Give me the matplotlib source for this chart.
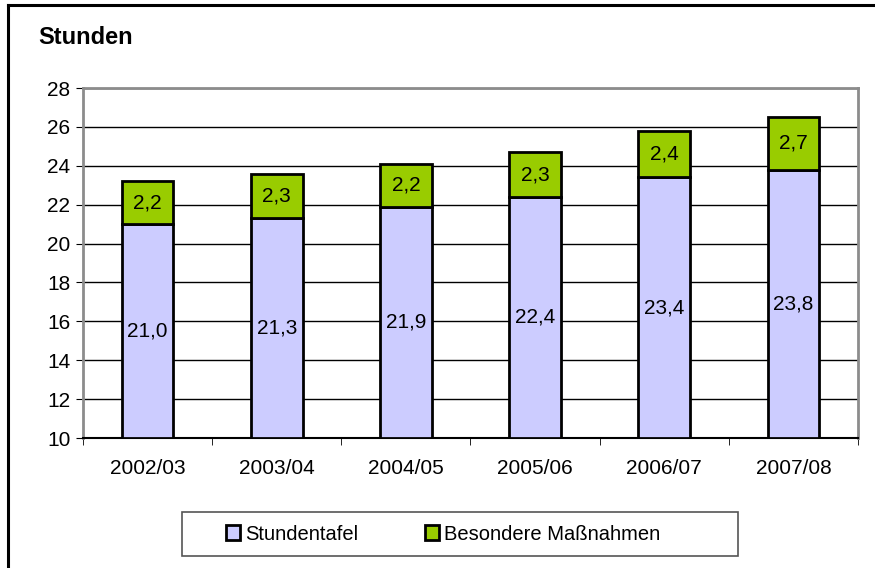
import matplotlib.pyplot as plt
from matplotlib.lines import Line2D
from matplotlib.patches import Rectangle
import numpy as np

plt.rcParams['font.family'] = ['Liberation Sans', 'DejaVu Sans']

years = ["2002/03", "2003/04", "2004/05", "2005/06", "2006/07", "2007/08"]
stundentafel = [21.0, 21.3, 21.9, 22.4, 23.4, 23.8]
massnahmen = [2.2, 2.3, 2.2, 2.3, 2.4, 2.7]

c_blue = "#ccccff"
c_green = "#99cc00"

fig = plt.figure(figsize=(8.75, 5.68), dpi=100)
ax = fig.add_axes([83/875, 1-438/568, (858-83)/875, (438-88)/568])

x = np.arange(len(years))
base = 10
b1 = ax.bar(x, np.array(stundentafel) - base, 0.4, bottom=base, color=c_blue,
            edgecolor="black", linewidth=2, zorder=3, label="Stundentafel")
b2 = ax.bar(x, massnahmen, 0.4, bottom=stundentafel, color=c_green,
            edgecolor="black", linewidth=2, zorder=3, label="Besondere Maßnahmen")

fmt = lambda v: f"{v:.1f}".replace(".", ",")
for i in range(len(years)):
    ax.text(x[i], (base + stundentafel[i]) / 2, fmt(stundentafel[i]),
            ha="center", va="center", fontsize=15, zorder=4)
    ax.text(x[i], stundentafel[i] + massnahmen[i] / 2, fmt(massnahmen[i]),
            ha="center", va="center", fontsize=15, zorder=4)

ax.set_xlim(-0.5, len(years) - 0.5)
ax.set_ylim(10, 28)
ax.set_yticks(range(10, 29, 2))
ax.yaxis.grid(True, color="black", linewidth=1)
ax.set_axisbelow(True)

ax.set_xticks(x)
ax.set_xticklabels(years, fontsize=15)
ax.set_xticks(np.arange(-0.5, len(years), 1), minor=True)
ax.tick_params(axis="x", which="major", length=0, pad=15)
ax.tick_params(axis="x", which="minor", length=5, direction="out")
ax.tick_params(axis="y", labelsize=15, length=5, direction="out", pad=4)

for s in ["top", "right", "left"]:
    ax.spines[s].set_color("#8c8c8c")
    ax.spines[s].set_linewidth(2)
ax.spines["bottom"].set_color("black")
ax.spines["bottom"].set_linewidth(1.5)

fig.text(38/875, 1-38/568, "Stunden", fontsize=17, fontweight="bold",
         ha="left", va="center")

# legend without its own frame, box drawn separately
leg = fig.legend(handles=[b1, b2], loc="center", ncol=2,
                 bbox_to_anchor=(443/875, 1-534/568), fontsize=14.5,
                 frameon=False, handlelength=0.7, handleheight=0.7,
                 handletextpad=0.25, columnspacing=3.3)
for h in leg.legend_handles:
    h.set_linewidth(2)
fig.add_artist(Rectangle((182/875, 1-556/568), (738-182)/875, 44/568,
                         transform=fig.transFigure, fill=False,
                         edgecolor="#555555", linewidth=1.2))

fig.add_artist(Line2D([8/875, 8/875], [0, 1-5/568], transform=fig.transFigure,
                      color="black", linewidth=2.2))
fig.add_artist(Line2D([8/875, 1], [1-5/568, 1-5/568], transform=fig.transFigure,
                      color="black", linewidth=2.2))

fig.savefig("out.png", dpi=100)
